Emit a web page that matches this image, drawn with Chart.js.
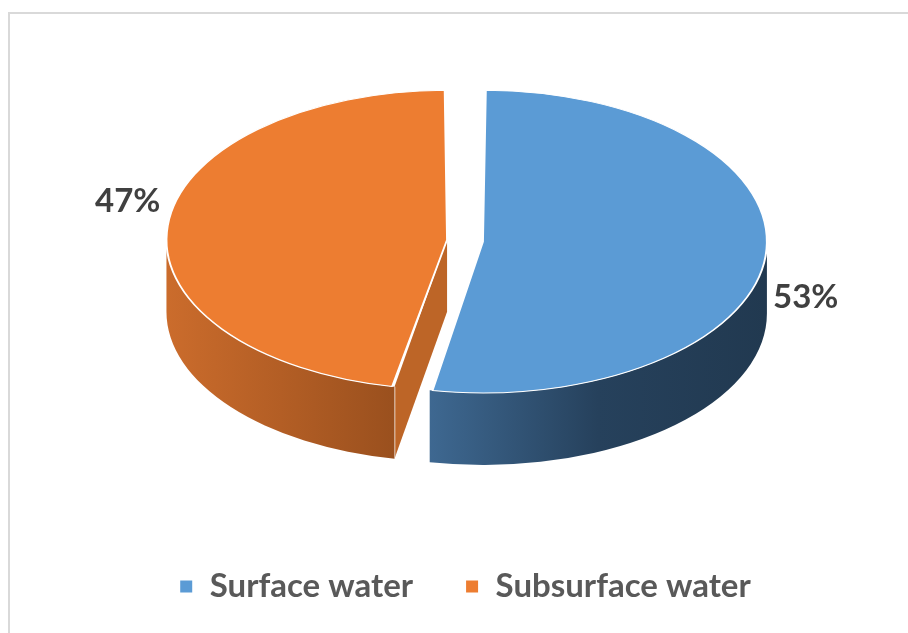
<!DOCTYPE html>
<html>
<head>
<meta charset="utf-8">
<title>Surface vs subsurface water</title>
<script src="https://cdn.jsdelivr.net/npm/chart.js@4/dist/chart.umd.min.js"></script>
<style>
  html, body { margin: 0; padding: 0; background: #fff; overflow: hidden; }
  #frame { position: absolute; left: 8px; top: 12px; width: 1000px; height: 700px;
           border-left: 2px solid #d9d9d9; border-top: 2px solid #d9d9d9; }
  #wrap { position: absolute; left: 0; top: 0; width: 908px; height: 633px; }
</style>
</head>
<body>
<div id="frame"></div>
<div id="wrap"><canvas id="waterChart"></canvas></div>
<script>
const categories = ['Surface water', 'Subsurface water'];
const shares = [53, 47];

// styles
const topColors = ['#5b9bd5', '#ed7d31'];
const sideColors = [['#3e6891', '#26415c', '#213950'], ['#cb6c2c', '#b35e25', '#9a501e']];
const cutColors = ['#2f5274', '#bd6527'];

const TILT = 0.533;  // vertical squash of the pie (ellipse ry / rx)
const DEPTH = 72;    // thickness of the pie in screen px

// where Chart.js actually paints an arc (offset moves it along its bisector)
function geom(el) {
  const o = (el.options.offset || 0) / 4;
  const half = (el.startAngle + el.endAngle) / 2;
  const circ = el.endAngle - el.startAngle;
  const fix = 1 - Math.sin(Math.min(Math.PI, circ));
  return {
    cx: el.x + Math.cos(half) * o,
    cy: el.y + Math.sin(half) * o,
    r: el.outerRadius + o * fix,
    s: el.startAngle,
    e: el.endAngle,
    half: half
  };
}

const pie3d = {
  id: 'pie3d',
  beforeDatasetsDraw(chart) {
    const ctx = chart.ctx;
    const meta = chart.getDatasetMeta(0);
    const depth = DEPTH / TILT;
    ctx.save();
    ctx.scale(1, TILT);   // stays on while the library paints the top faces
    ctx.save();
    meta.data.forEach((el, i) => {
      const g = geom(el);

      // radial cut faces that turn towards the viewer
      [[g.s, Math.cos(g.s) < -0.01], [g.e, Math.cos(g.e) > 0.01]].forEach(([t, show]) => {
        if (!show) return;
        const px = g.cx + g.r * Math.cos(t);
        const py = g.cy + g.r * Math.sin(t);
        ctx.beginPath();
        ctx.moveTo(g.cx, g.cy);
        ctx.lineTo(px, py);
        ctx.lineTo(px, py + depth);
        ctx.lineTo(g.cx, g.cy + depth);
        ctx.closePath();
        ctx.fillStyle = cutColors[i];
        ctx.fill();
        ctx.strokeStyle = '#ffffff';
        ctx.lineWidth = 1.5;
        ctx.beginPath();
        ctx.moveTo(px, py);
        ctx.lineTo(px, py + depth);
        ctx.stroke();
      });

      // front rim
      const a0 = Math.max(g.s, 0);
      const a1 = Math.min(g.e, Math.PI);
      if (a1 <= a0) return;
      const xr = g.cx + g.r * Math.cos(a0);
      const xl = g.cx + g.r * Math.cos(a1);
      const grad = ctx.createLinearGradient(xl, 0, xr, 0);
      sideColors[i].forEach((c, j, arr) => grad.addColorStop(j / (arr.length - 1), c));
      ctx.beginPath();
      ctx.arc(g.cx, g.cy, g.r, a0, a1);
      ctx.arc(g.cx, g.cy + depth, g.r, a1, a0, true);
      ctx.closePath();
      ctx.fillStyle = grad;
      ctx.fill();
    });
    ctx.restore();
  },
  afterDatasetsDraw(chart) {
    const ctx = chart.ctx;
    ctx.restore();

    // percentage labels outside the slices
    const meta = chart.getDatasetMeta(0);
    const total = shares.reduce((a, b) => a + b, 0);
    ctx.save();
    ctx.font = 'bold 33px Lato';
    ctx.fillStyle = '#404040';
    ctx.textAlign = 'center';
    ctx.textBaseline = 'middle';
    meta.data.forEach((el, i) => {
      const g = geom(el);
      const sx = g.cx + g.r * Math.cos(g.half);
      const sy = (g.cy + g.r * Math.sin(g.half)) * TILT;
      const lx = sx + 40 * Math.sign(Math.cos(g.half));
      const ly = sy + (Math.sin(g.half) > 0 ? 42 : -24);
      ctx.fillText(Math.round(shares[i] / total * 100) + '%', lx, ly);
    });
    ctx.restore();
  }
};

new Chart(document.getElementById('waterChart'), {
  type: 'pie',
  data: {
    labels: categories,
    datasets: [{
      data: shares,
      backgroundColor: topColors,
      borderColor: '#ffffff',
      borderWidth: 2,
      offset: 72,
      radius: 266,
      clip: false
    }]
  },
  options: {
    responsive: true,
    maintainAspectRatio: false,
    animation: false,
    events: [],
    layout: { padding: { left: 22, right: 0, top: 385, bottom: 20 } },
    plugins: {
      legend: {
        position: 'bottom',
        labels: {
          boxWidth: 14,
          boxHeight: 14,
          padding: 52,
          color: '#595959',
          font: { family: 'Lato', size: 33, weight: 'bold' }
        }
      },
      tooltip: { enabled: false }
    }
  },
  plugins: [pie3d]
});
</script>
</body>
</html>
